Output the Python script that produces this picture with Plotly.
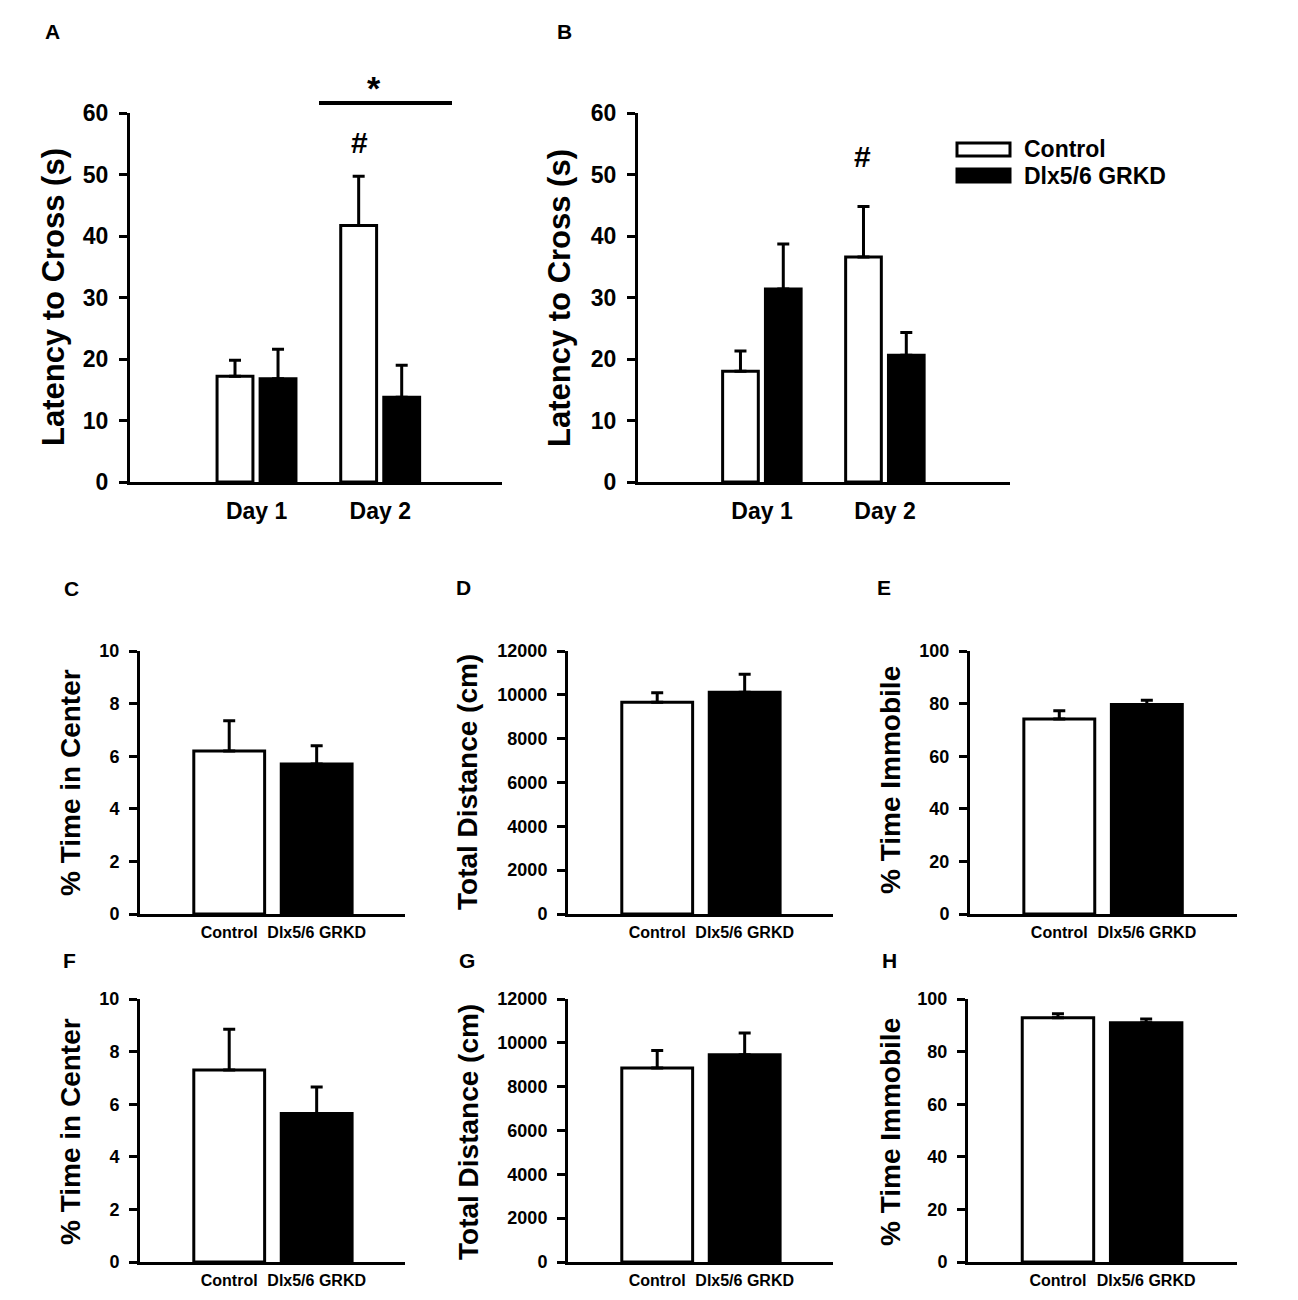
import plotly.graph_objects as go

W, H = 1298, 1300

# ---------------- data ----------------
days = ["Day 1", "Day 2"]
groups = ["Control", "Dlx5/6 GRKD"]

a_ctrl = [17.2, 41.7]
a_ctrl_sem = [2.6, 8.0]
a_grkd = [16.8, 13.8]
a_grkd_sem = [4.8, 5.2]

b_ctrl = [18.0, 36.6]
b_ctrl_sem = [3.3, 8.2]
b_grkd = [31.4, 20.6]
b_grkd_sem = [7.3, 3.7]

c_vals = [6.2, 5.7]
c_sem = [1.15, 0.7]
d_vals = [9660, 10120]
d_sem = [440, 820]
e_vals = [74.1, 79.7]
e_sem = [3.2, 1.6]
f_vals = [7.3, 5.65]
f_sem = [1.55, 1.0]
g_vals = [8850, 9460]
g_sem = [800, 990]
h_vals = [92.9, 91.0]
h_sem = [1.5, 1.4]

top_yticks = [0, 10, 20, 30, 40, 50, 60]
pct10_ticks = [0, 2, 4, 6, 8, 10]
dist_ticks = [0, 2000, 4000, 6000, 8000, 10000, 12000]
pct100_ticks = [0, 20, 40, 60, 80, 100]

FONT = "Liberation Sans, Arial, Helvetica, sans-serif"


def px(x):
    return x / W


def py(y):
    return 1 - y / H


def xdom(l, r):
    return [px(l), px(r)]


def ydom(t, b):
    return [py(b), py(t)]


fig = go.Figure()


def err(arr):
    return dict(type="data", array=arr, arrayminus=[0] * len(arr), symmetric=False,
                color="black", thickness=3, width=6)


# top panels (grouped, two series)
for idx, (ctrl, csem, grkd, gsem) in enumerate([(a_ctrl, a_ctrl_sem, a_grkd, a_grkd_sem),
                                                 (b_ctrl, b_ctrl_sem, b_grkd, b_grkd_sem)]):
    ax = "" if idx == 0 else str(idx + 1)
    fig.add_trace(go.Bar(x=days, y=ctrl, name=groups[0], offset=-0.32, width=0.29,
                         marker=dict(color="white", line=dict(color="black", width=3)),
                         error_y=err(csem), xaxis="x" + ax, yaxis="y" + ax))
    fig.add_trace(go.Bar(x=days, y=grkd, name=groups[1], offset=0.028, width=0.29,
                         marker=dict(color="black", line=dict(color="black", width=3)),
                         error_y=err(gsem), xaxis="x" + ax, yaxis="y" + ax))

# lower panels
lower = [c_vals, d_vals, e_vals, f_vals, g_vals, h_vals]
lower_sem = [c_sem, d_sem, e_sem, f_sem, g_sem, h_sem]
for i, (v, s) in enumerate(zip(lower, lower_sem)):
    n = str(i + 3)
    fig.add_trace(go.Bar(x=groups, y=v, width=0.81,
                         marker=dict(color=["white", "black"], line=dict(color="black", width=3)),
                         error_y=err(s), xaxis="x" + n, yaxis="y" + n))

panels = [
    # name, xdomain px, ydomain px, xrange, yrange, yticks, tickfont size, xfont size
    ("", (130, 502), (113, 482), [-1.024, 1.984], [0, 60], top_yticks, 23, 23),
    ("2", (638, 1010), (113, 482), [-1.008, 2.016], [0, 60], top_yticks, 23, 23),
    ("3", (140, 405), (651, 914), [-1.02, 2.01], [0, 10], pct10_ticks, 18, 16),
    ("4", (568, 833), (651, 914), [-1.02, 2.01], [0, 12000], dist_ticks, 18, 16),
    ("5", (970, 1237), (651, 914), [-1.02, 2.03], [0, 100], pct100_ticks, 18, 16),
    ("6", (140, 405), (999, 1262), [-1.02, 2.01], [0, 10], pct10_ticks, 18, 16),
    ("7", (568, 833), (999, 1262), [-1.02, 2.01], [0, 12000], dist_ticks, 18, 16),
    ("8", (968, 1237), (999, 1262), [-1.02, 2.03], [0, 100], pct100_ticks, 18, 16),
]

layout_axes = {}
for name, xd, yd, xr, yr, yt, yfs, xfs in panels:
    layout_axes["xaxis" + name] = dict(
        domain=xdom(*xd), anchor="y" + name, type="category", range=xr,
        showline=True, linecolor="black", linewidth=3, ticks="", showgrid=False,
        zeroline=False, fixedrange=True, automargin=False,
        ticklabelstandoff=6 if name in ("", "2") else 2,
        tickfont=dict(family=FONT, size=xfs, color="black", weight="bold"))
    layout_axes["yaxis" + name] = dict(
        domain=ydom(*yd), anchor="x" + name, range=yr, tickmode="array", tickvals=yt,
        tickformat="d", automargin=False,
        showline=True, linecolor="black", linewidth=3, ticks="outside", ticklen=8,
        tickwidth=3, tickcolor="black", showgrid=False, zeroline=False, fixedrange=True,
        ticklabelstandoff=6,
        tickfont=dict(family=FONT, size=yfs, color="black", weight="bold"))

annotations = []


def txt(text, x, y, size, angle=0, xanchor="center"):
    annotations.append(dict(text=text, x=px(x), y=py(y), xref="paper", yref="paper",
                            showarrow=False, textangle=angle, xanchor=xanchor, yanchor="middle",
                            font=dict(family=FONT, size=size, color="black", weight="bold")))


# panel letters
for lab, x, y in [("A", 52, 31), ("B", 564, 31), ("C", 71, 588), ("D", 464, 587),
                  ("E", 884, 587), ("F", 69, 960), ("G", 467, 960), ("H", 889, 960)]:
    txt(lab, x, y, 21)

# y titles
txt("Latency to Cross (s)", 53, 297, 31, -90)
txt("Latency to Cross (s)", 559, 298, 31, -90)
txt("% Time in Center", 70, 783, 28, -90)
txt("Total Distance (cm)", 467, 782, 28, -90)
txt("% Time Immobile", 890, 780, 28, -90)
txt("% Time in Center", 70, 1132, 28, -90)
txt("Total Distance (cm)", 468, 1132, 28, -90)
txt("% Time Immobile", 890, 1132, 28, -90)

# significance markers
txt("#", 360, 143, 30)
txt("*", 374, 88, 34)
txt("#", 862, 156, 30)

# legend text
txt("Control", 1022, 149, 23, xanchor="left")
txt("Dlx5/6 GRKD", 1022, 176, 23, xanchor="left")

shapes = [
    dict(type="line", xref="paper", yref="paper", x0=px(319), x1=px(452), y0=py(103), y1=py(103),
         line=dict(color="black", width=4)),
    dict(type="rect", xref="paper", yref="paper", x0=px(957), x1=px(1010), y0=py(156), y1=py(143),
         fillcolor="white", line=dict(color="black", width=3)),
    dict(type="rect", xref="paper", yref="paper", x0=px(957), x1=px(1010), y0=py(182), y1=py(169),
         fillcolor="black", line=dict(color="black", width=3)),
]

fig.update_layout(
    width=W, height=H, autosize=False,
    margin=dict(l=0, r=0, t=0, b=0, pad=0),
    paper_bgcolor="white", plot_bgcolor="white",
    showlegend=False,
    annotations=annotations, shapes=shapes,
    font=dict(family=FONT, color="black"),
    **layout_axes,
)

post = """
document.documentElement.style.margin='0';
document.documentElement.style.padding='0';
document.documentElement.style.overflow='hidden';
document.documentElement.style.height='1300px';
document.body.style.margin='0';
document.body.style.padding='0';
document.body.style.overflow='hidden';
document.body.style.height='1300px';
var gd = document.getElementsByClassName('plotly-graph-div')[0];
gd.style.position='fixed'; gd.style.top='0px'; gd.style.left='0px';
"""

fig.write_html("out.html", include_plotlyjs=True, config={"displayModeBar": False},
               post_script=post)
